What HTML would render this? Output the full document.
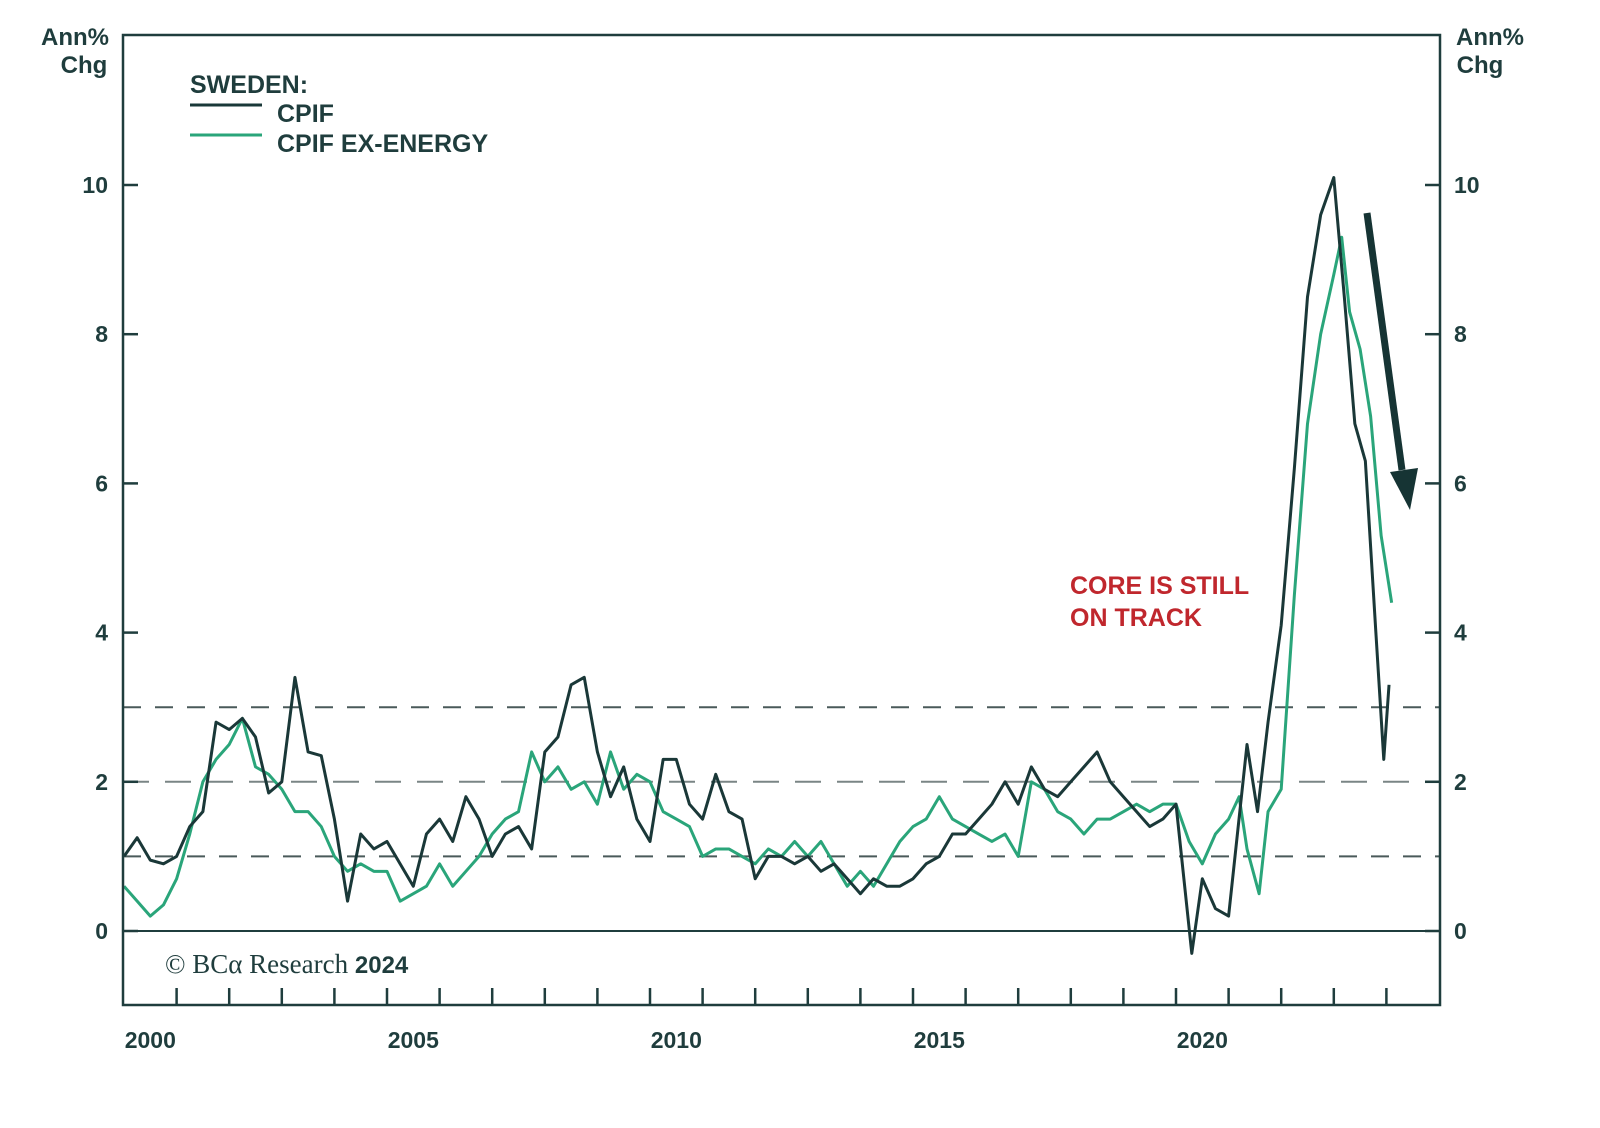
<!DOCTYPE html>
<html><head><meta charset="utf-8"><style>
body{margin:0;background:#fff;}
svg text{font-family:"Liberation Sans",sans-serif;}
</style></head><body>
<svg id="chart" width="1600" height="1123" viewBox="0 0 1600 1123" xmlns="http://www.w3.org/2000/svg">
<g id="grid"></g>
<g id="series"></g>
<rect x="123" y="35" width="1317" height="970" fill="none" stroke="#1f3d3d" stroke-width="2.5"/>
<g id="axes"></g>
<text x="75" y="45" text-anchor="middle" font-size="24" font-weight="bold" fill="#1f3d3d">Ann%</text>
<text x="84" y="73" text-anchor="middle" font-size="24" font-weight="bold" fill="#1f3d3d">Chg</text>
<text x="1490" y="45" text-anchor="middle" font-size="24" font-weight="bold" fill="#1f3d3d">Ann%</text>
<text x="1480" y="73" text-anchor="middle" font-size="24" font-weight="bold" fill="#1f3d3d">Chg</text>
<g>
<text x="190" y="93" font-size="25" font-weight="bold" fill="#1f3d3d">SWEDEN:</text>
<line x1="190" y1="105" x2="262" y2="105" stroke="#1a3838" stroke-width="3"/>
<text x="277" y="122" font-size="25" font-weight="bold" fill="#1f3d3d">CPIF</text>
<line x1="190" y1="135" x2="262" y2="135" stroke="#2aa57a" stroke-width="3"/>
<text x="277" y="152" font-size="25" font-weight="bold" fill="#1f3d3d">CPIF EX-ENERGY</text>
</g>
<text x="1070" y="594" font-size="25" font-weight="bold" fill="#c0272d">CORE IS STILL</text>
<text x="1070" y="626" font-size="25" font-weight="bold" fill="#c0272d">ON TRACK</text>
<g>
<line x1="1367" y1="213" x2="1402" y2="470" stroke="#163434" stroke-width="7"/>
<polygon points="1390,472 1418,468 1410,510" fill="#163434"/>
</g>
<text x="165" y="973" font-size="27" fill="#1f3d3d" style="font-family:'Liberation Serif',serif">© BCα Research <tspan font-weight="bold" style="font-family:'Liberation Sans',sans-serif" font-size="24">2024</tspan></text>
</svg>
<script>
const yTicks=[0,2,4,6,8,10];
const xLabels=[2000,2005,2010,2015,2020];
const dashLevels=[1,2,3];
const cpifQ=[1.0,1.25,0.95,0.9, 1.0,1.4,1.6,2.8, 2.7,2.85,2.6,1.85, 2.0,3.4,2.4,2.35, 1.5,0.4,1.3,1.1,
 1.2,0.9,0.6,1.3, 1.5,1.2,1.8,1.5, 1.0,1.3,1.4,1.1, 2.4,2.6,3.3,3.4, 2.4,1.8,2.2,1.5,
 1.2,2.3,2.3,1.7, 1.5,2.1,1.6,1.5, 0.7,1.0,1.0,0.9, 1.0,0.8,0.9,0.7, 0.5,0.7,0.6,0.6,
 0.7,0.9,1.0,1.3, 1.3,1.5,1.7,2.0, 1.7,2.2,1.9,1.8, 2.0,2.2,2.4,2.0, 1.8,1.6,1.4,1.5];
const cpifLateDates=[2020.0,2020.3,2020.5,2020.75,2021.0,2021.35,2021.55,2021.75,2022.0,2022.25,2022.5,2022.75,2023.0,2023.2,2023.4,2023.6,2023.8,2023.95,2024.05];
const cpifLate=[1.7,-0.3,0.7,0.3,0.2,2.5,1.6,2.8,4.1,6.2,8.5,9.6,10.1,8.5,6.8,6.3,4.0,2.3,3.3];
const exQ=[0.6,0.4,0.2,0.35, 0.7,1.3,2.0,2.3, 2.5,2.85,2.2,2.1, 1.9,1.6,1.6,1.4, 1.0,0.8,0.9,0.8,
 0.8,0.4,0.5,0.6, 0.9,0.6,0.8,1.0, 1.3,1.5,1.6,2.4, 2.0,2.2,1.9,2.0, 1.7,2.4,1.9,2.1,
 2.0,1.6,1.5,1.4, 1.0,1.1,1.1,1.0, 0.9,1.1,1.0,1.2, 1.0,1.2,0.9,0.6, 0.8,0.6,0.9,1.2,
 1.4,1.5,1.8,1.5, 1.4,1.3,1.2,1.3, 1.0,2.0,1.9,1.6, 1.5,1.3,1.5,1.5, 1.6,1.7,1.6,1.7];
const exLateDates=[2020.0,2020.25,2020.5,2020.75,2021.0,2021.2,2021.35,2021.58,2021.75,2022.0,2022.25,2022.5,2022.75,2023.0,2023.15,2023.3,2023.5,2023.7,2023.9,2024.1];
const exLate=[1.7,1.2,0.9,1.3,1.5,1.8,1.1,0.5,1.6,1.9,4.5,6.8,8.0,8.8,9.3,8.3,7.8,6.9,5.3,4.4];

const NS='http://www.w3.org/2000/svg';
const X=d=>124+(d-2000)*52.6;
const Y=v=>931-v*74.6;
function mk(t,a,p){const e=document.createElementNS(NS,t);for(const k in a)e.setAttribute(k,a[k]);p.appendChild(e);return e;}
const grid=document.getElementById('grid'),axes=document.getElementById('axes'),ser=document.getElementById('series');
dashLevels.forEach(v=>{const l=mk('line',{x1:123,x2:1440,y1:Y(v),y2:Y(v),stroke:v===2?'#7a8585':'#4a5a5a','stroke-width':2,'stroke-dasharray':v===2?'26 16':'18 14'},grid);

});
const z=mk('line',{x1:123,x2:1440,y1:Y(0),y2:Y(0),stroke:'#1f3d3d','stroke-width':2},grid);


yTicks.forEach(v=>{
 mk('line',{x1:123,x2:138,y1:Y(v),y2:Y(v),stroke:'#1f3d3d','stroke-width':2.5},axes);
 mk('line',{x1:1425,x2:1440,y1:Y(v),y2:Y(v),stroke:'#1f3d3d','stroke-width':2.5},axes);
 const a=mk('text',{x:108,y:Y(v)+8,'text-anchor':'end','font-size':23,'font-weight':'bold',fill:'#1f3d3d'},axes);a.textContent=v;
 
 
 const b=mk('text',{x:1454,y:Y(v)+8,'font-size':23,'font-weight':'bold',fill:'#1f3d3d'},axes);b.textContent=v;
 
 
});
for(let yr=2001;yr<=2024;yr++){mk('line',{x1:X(yr),x2:X(yr),y1:1005,y2:988,stroke:'#1f3d3d','stroke-width':2.5},axes);}
xLabels.forEach(yr=>{const t=mk('text',{x:X(yr+0.5),y:1048,'text-anchor':'middle','font-size':23,'font-weight':'bold',fill:'#1f3d3d'},axes);t.textContent=yr;
 
 });
function pts(q,ld,lv){const p=[];q.forEach((v,i)=>p.push(X(2000+i*0.25)+','+Y(v)));ld.forEach((d,i)=>p.push(X(d)+','+Y(lv[i])));return p.join(' ');}
const g=mk('polyline',{points:pts(exQ,exLateDates,exLate),fill:'none',stroke:'#2aa57a','stroke-width':3,'stroke-linejoin':'round'},ser);


const d=mk('polyline',{points:pts(cpifQ,cpifLateDates,cpifLate),fill:'none',stroke:'#1a3838','stroke-width':3,'stroke-linejoin':'round'},ser);


</script>
</body></html>
